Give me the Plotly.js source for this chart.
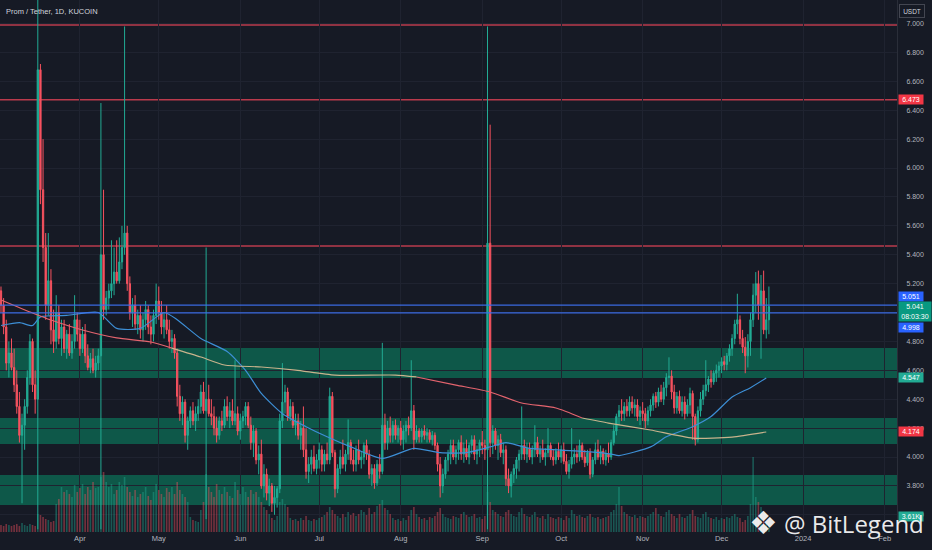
<!DOCTYPE html>
<html><head><meta charset="utf-8">
<script src="https://cdn.plot.ly/plotly-3.0.1.min.js"></script>
<style>html,body{margin:0;padding:0;background:#161a25;overflow:hidden}#chart{width:932px;height:550px}</style>
</head><body><div id="chart"></div>
<script>
// Daily candles starting 2023-03-02 (KUCOIN PROM/USDT)
const startDate = [2023, 2, 2];
const open = [
5.15,5.05,4.90,4.65,4.72,4.62,4.50,4.35,4.15,4.22,
4.35,4.55,4.80,4.50,4.40,6.68,5.85,5.45,5.05,5.22,
4.88,4.80,5.00,4.82,4.90,4.75,4.85,4.72,4.80,4.95,
4.85,4.75,4.85,4.70,4.62,4.68,4.60,4.65,4.70,5.40,
5.02,5.10,5.15,5.20,5.28,5.22,5.35,5.45,5.55,5.20,
5.00,5.05,4.92,4.98,4.88,4.95,5.02,4.90,4.85,4.98,
5.08,5.00,4.90,4.95,4.88,4.80,4.82,4.72,4.42,4.30,
4.38,4.15,4.25,4.32,4.25,4.30,4.35,4.45,4.32,4.40,
4.30,4.28,4.20,4.15,4.25,4.22,4.35,4.28,4.32,4.25,
4.30,4.18,4.25,4.28,4.35,4.22,4.10,4.18,3.98,4.02,
3.80,3.88,3.75,3.80,3.68,3.72,3.78,4.25,4.38,4.45,
4.28,4.35,4.22,4.25,4.15,4.20,4.05,3.90,3.95,4.00,
3.92,3.98,4.05,3.95,4.02,3.98,4.42,4.03,3.78,3.92,
4.00,3.95,4.02,4.10,3.98,3.95,4.05,3.98,4.00,4.08,
4.02,3.88,3.92,3.82,3.95,3.90,4.22,4.10,4.20,4.15,
4.22,4.15,4.20,4.12,4.18,4.22,4.20,4.32,4.12,4.18,
4.14,4.18,4.15,4.17,4.12,4.15,4.08,3.95,3.80,3.88,
3.98,4.02,4.08,4.00,4.05,4.10,4.02,4.06,4.00,4.08,
4.12,4.02,4.05,4.10,4.08,4.05,5.48,4.10,4.18,4.08,
4.12,4.03,4.05,3.85,3.80,3.88,3.92,3.98,4.02,4.08,
4.02,4.06,4.00,4.05,4.10,4.02,4.05,4.00,4.03,4.08,
4.00,3.98,4.04,4.00,4.05,3.97,3.90,3.95,4.00,4.02,
4.00,4.08,4.00,3.96,4.03,3.88,3.98,4.05,4.00,4.04,
3.98,4.02,4.00,4.10,4.18,4.28,4.32,4.30,4.35,4.32,
4.38,4.34,4.36,4.28,4.32,4.30,4.25,4.32,4.36,4.42,
4.38,4.45,4.40,4.48,4.55,4.56,4.45,4.34,4.42,4.32,
4.38,4.30,4.36,4.44,4.28,4.12,4.32,4.40,4.46,4.50,
4.54,4.52,4.58,4.60,4.63,4.66,4.64,4.70,4.75,4.82,
4.92,4.95,4.82,4.76,4.70,4.80,4.95,5.12,5.20,5.05,
5.15,4.88,4.95];
const high = [
5.18,5.10,4.95,4.80,4.82,4.75,4.60,4.45,4.30,4.40,
4.60,4.85,4.82,4.60,7.30,6.72,6.20,5.55,5.55,5.30,
5.02,5.12,5.05,4.95,4.95,4.88,4.92,4.85,5.12,5.00,
4.95,4.90,4.92,4.78,4.72,4.75,4.70,4.75,6.45,5.85,
5.15,5.20,5.50,5.45,5.50,5.52,5.60,6.98,5.60,5.25,
5.10,5.12,5.02,5.05,5.00,5.08,5.05,4.98,5.02,5.20,
5.18,5.08,5.00,5.05,4.95,4.88,4.85,4.75,4.50,4.42,
4.40,4.28,4.35,4.38,4.35,4.40,4.50,4.52,5.45,4.50,
4.40,4.35,4.28,4.28,4.32,4.40,4.42,4.38,4.40,4.67,
4.35,4.30,4.32,4.38,4.38,4.28,4.22,4.20,4.08,4.12,
3.95,3.92,3.85,3.82,3.80,3.80,4.30,4.65,4.50,4.48,
4.40,4.38,4.30,4.30,4.25,4.35,4.20,4.00,4.05,4.08,
4.02,4.10,4.08,4.05,4.10,4.48,4.45,4.05,3.95,4.05,
4.12,4.05,4.26,4.12,4.05,4.08,4.12,4.04,4.10,4.12,
4.05,3.95,3.95,3.98,4.02,4.79,4.30,4.25,4.28,4.25,
4.26,4.22,4.25,4.22,4.25,4.28,4.67,4.36,4.22,4.20,
4.20,4.22,4.20,4.19,4.18,4.17,4.10,4.00,3.92,4.00,
4.05,4.12,4.12,4.08,4.12,4.15,4.10,4.12,4.10,4.15,
4.15,4.08,4.12,4.18,4.12,6.98,6.30,4.22,4.20,4.15,
4.16,4.10,4.08,3.92,3.90,3.95,4.00,4.05,4.35,4.12,
4.10,4.10,4.08,4.22,4.14,4.08,4.12,4.06,4.20,4.10,
4.05,4.06,4.10,4.08,4.10,4.02,3.98,4.20,4.06,4.08,
4.12,4.10,4.05,4.05,4.06,4.00,4.10,4.12,4.08,4.06,
4.05,4.10,4.12,4.22,4.30,4.36,4.40,4.38,4.40,4.42,
4.42,4.40,4.40,4.35,4.38,4.34,4.35,4.40,4.44,4.45,
4.48,4.50,4.52,4.58,4.69,4.60,4.50,4.45,4.46,4.42,
4.42,4.40,4.48,4.46,4.30,4.35,4.45,4.50,4.67,4.56,
4.60,4.60,4.64,4.66,4.69,4.70,4.72,4.78,4.85,4.95,
5.13,4.98,4.88,4.83,4.85,5.00,5.20,5.28,5.29,5.26,
5.29,5.10,5.18];
const low = [
5.00,4.85,4.60,4.55,4.60,4.45,4.30,4.10,3.68,4.05,
4.30,4.50,4.45,4.30,3.50,5.75,5.35,4.95,4.98,4.78,
4.72,4.75,4.78,4.70,4.72,4.68,4.70,4.68,4.75,4.80,
4.70,4.72,4.65,4.60,4.58,4.58,4.55,4.60,3.50,4.95,
4.98,5.02,5.10,5.12,5.20,5.20,5.30,5.40,5.15,4.95,
4.90,4.88,4.85,4.82,4.80,4.88,4.85,4.78,4.80,4.92,
4.95,4.85,4.82,4.85,4.75,4.72,4.68,4.35,4.25,4.22,
4.10,4.05,4.20,4.22,4.18,4.25,4.30,4.30,3.57,4.28,
4.22,4.15,4.10,4.12,4.18,4.20,4.25,4.20,4.22,4.22,
4.15,4.12,4.20,4.22,4.20,4.05,4.00,3.95,3.88,3.78,
3.72,3.70,3.66,3.62,3.60,3.65,3.75,4.20,4.30,4.25,
4.25,4.20,4.15,4.12,4.05,4.00,3.85,3.82,3.88,3.90,
3.88,3.92,3.90,3.90,3.95,3.95,4.00,3.72,3.75,3.88,
3.92,3.90,3.98,3.95,3.90,3.90,3.95,3.92,3.95,3.98,
3.85,3.80,3.78,3.80,3.85,3.88,4.05,4.05,4.10,4.10,
4.12,4.10,4.08,4.05,4.10,4.15,4.18,4.05,4.10,4.10,
4.10,4.12,4.10,4.10,4.08,4.05,3.90,3.72,3.75,3.85,
3.90,3.95,3.98,3.95,3.98,3.98,3.96,3.98,3.95,4.02,
3.98,3.95,4.00,4.02,3.98,3.50,4.00,4.02,4.05,3.98,
4.00,3.95,3.80,3.75,3.72,3.82,3.85,3.90,3.98,3.98,
3.96,3.98,3.95,4.00,4.00,3.96,3.98,3.94,4.00,3.98,
3.94,3.95,3.98,3.96,3.95,3.88,3.85,3.92,3.95,3.96,
3.97,3.98,3.93,3.94,3.85,3.86,3.95,3.98,3.95,3.95,
3.94,3.96,3.98,4.08,4.15,4.22,4.25,4.25,4.28,4.28,
4.30,4.28,4.25,4.22,4.25,4.20,4.22,4.28,4.32,4.34,
4.35,4.38,4.36,4.42,4.50,4.40,4.30,4.30,4.30,4.28,
4.26,4.28,4.30,4.12,4.08,4.10,4.28,4.36,4.42,4.45,
4.48,4.50,4.52,4.55,4.58,4.60,4.60,4.66,4.70,4.78,
4.85,4.78,4.72,4.58,4.62,4.70,4.90,5.00,4.95,4.68,
4.85,4.82,4.85];
const close = [
5.05,4.90,4.65,4.72,4.62,4.50,4.35,4.15,4.22,4.35,
4.55,4.80,4.50,4.40,6.68,5.85,5.45,5.05,5.22,4.88,
4.80,5.00,4.82,4.90,4.75,4.85,4.72,4.80,4.95,4.85,
4.75,4.85,4.70,4.62,4.68,4.60,4.65,4.70,5.40,5.02,
5.10,5.15,5.20,5.28,5.22,5.35,5.45,5.55,5.20,5.00,
5.05,4.92,4.98,4.88,4.95,5.02,4.90,4.85,4.98,5.08,
5.00,4.90,4.95,4.88,4.80,4.82,4.72,4.42,4.30,4.38,
4.15,4.25,4.32,4.25,4.30,4.35,4.45,4.32,4.40,4.30,
4.28,4.20,4.15,4.25,4.22,4.35,4.28,4.32,4.25,4.30,
4.18,4.25,4.28,4.35,4.22,4.10,4.18,3.98,4.02,3.80,
3.88,3.75,3.80,3.68,3.72,3.78,4.25,4.38,4.45,4.28,
4.35,4.22,4.25,4.15,4.20,4.05,3.90,3.95,4.00,3.92,
3.98,4.05,3.95,4.02,3.98,4.42,4.03,3.78,3.92,4.00,
3.95,4.02,4.10,3.98,3.95,4.05,3.98,4.00,4.08,4.02,
3.88,3.92,3.82,3.95,3.90,4.22,4.10,4.20,4.15,4.22,
4.15,4.20,4.12,4.18,4.22,4.20,4.32,4.12,4.18,4.14,
4.18,4.15,4.17,4.12,4.15,4.08,3.95,3.80,3.88,3.98,
4.02,4.08,4.00,4.05,4.10,4.02,4.06,4.00,4.08,4.12,
4.02,4.05,4.10,4.08,4.05,5.48,4.10,4.18,4.08,4.12,
4.03,4.05,3.85,3.80,3.88,3.92,3.98,4.02,4.08,4.02,
4.06,4.00,4.05,4.10,4.02,4.05,4.00,4.03,4.08,4.00,
3.98,4.04,4.00,4.05,3.97,3.90,3.95,4.00,4.02,4.00,
4.08,4.00,3.96,4.03,3.88,3.98,4.05,4.00,4.04,3.98,
4.02,4.00,4.10,4.18,4.28,4.32,4.30,4.35,4.32,4.38,
4.34,4.36,4.28,4.32,4.30,4.25,4.32,4.36,4.42,4.38,
4.45,4.40,4.48,4.55,4.56,4.45,4.34,4.42,4.32,4.38,
4.30,4.36,4.44,4.28,4.12,4.32,4.40,4.46,4.50,4.54,
4.52,4.58,4.60,4.63,4.66,4.64,4.70,4.75,4.82,4.92,
4.95,4.82,4.76,4.70,4.80,4.95,5.12,5.20,5.05,5.15,
4.88,4.95,5.041];
// volume in thousands of PROM
const volume = [
7,6,8,7,6,7,8,6,9,7,
6,8,7,6,18,17,15,13,12,10,
11,28,33,45,40,42,38,35,47,40,
44,48,38,45,42,50,44,45,55,60,
50,45,48,38,42,50,47,55,45,40,
36,42,35,38,40,45,36,32,40,48,
42,38,35,44,40,45,38,50,42,38,
35,30,15,12,11,10,22,30,58,45,
40,35,48,42,38,45,40,36,34,50,
42,38,45,40,35,42,38,40,35,30,
25,22,18,14,12,16,30,33,28,25,
14,12,13,11,14,12,16,12,11,13,
12,14,15,17,20,25,22,18,16,14,
18,15,20,17,19,16,18,22,20,17,
24,18,20,26,28,32,24,22,18,14,
12,13,11,14,12,16,22,25,18,15,
13,14,12,15,14,16,20,24,18,15,
14,13,16,15,14,18,20,17,15,16,
18,14,15,13,16,40,30,22,20,18,
16,15,20,22,18,16,15,20,24,18,
16,15,17,20,15,14,16,13,18,15,
14,13,15,14,12,16,14,22,18,16,
17,15,14,16,18,15,14,15,13,14,
15,16,20,22,28,45,26,20,18,16,
15,17,14,16,15,14,16,18,20,24,
18,16,15,20,22,18,16,14,18,15,
14,16,18,22,16,15,14,18,20,15,
14,13,15,12,14,13,15,14,16,18,
15,14,10,12,16,28,75,35,30,25,
14,10,8];

// moving averages
const fastMaDates = ['2023-03-02','2023-03-09','2023-03-14','2023-03-17','2023-03-27','2023-04-08','2023-04-15','2023-04-24','2023-05-03','2023-05-08','2023-05-17','2023-05-27','2023-06-03','2023-06-09','2023-06-17','2023-06-26','2023-07-04','2023-07-13','2023-07-25','2023-08-06','2023-08-16','2023-08-26','2023-09-04','2023-09-10','2023-09-19','2023-09-29','2023-10-12','2023-10-20','2023-10-23','2023-11-04','2023-11-10','2023-11-20','2023-11-27','2023-12-05','2023-12-12','2023-12-18'];
const fastMaValues = [4.91,4.93,4.91,4.97,4.98,5.00,4.89,4.89,5.00,4.95,4.82,4.73,4.60,4.44,4.30,4.21,4.14,4.07,3.99,4.06,4.03,4.03,4.07,4.10,4.06,4.05,4.035,4.02,4.01,4.07,4.14,4.21,4.28,4.415,4.48,4.547];
const slowMaDates = ['2023-03-02','2023-03-14','2023-03-21','2023-04-02','2023-04-15','2023-04-28','2023-05-06','2023-05-17','2023-05-26','2023-06-09','2023-06-22','2023-07-07','2023-07-30','2023-08-07','2023-08-22','2023-09-04','2023-09-16','2023-09-29','2023-10-09','2023-10-19','2023-11-04','2023-11-20','2023-12-05','2023-12-18'];
const slowMaValues = [5.087,4.997,4.948,4.879,4.824,4.796,4.754,4.692,4.637,4.623,4.602,4.567,4.567,4.554,4.498,4.450,4.374,4.339,4.270,4.235,4.187,4.131,4.138,4.173];

const redLevels = [6.99, 6.473, 5.46];
const blueLevels = [5.051, 4.998];
const zoneLow = [4.547, 4.09, 3.668];
const zoneHigh = [4.754, 4.27, 3.875];
const monthTicks = ['2023-04-01','2023-05-01','2023-06-01','2023-07-01','2023-08-01','2023-09-01','2023-10-01','2023-11-01','2023-12-01','2024-01-01','2024-02-01'];
const monthLabels = ['Apr','May','Jun','Jul','Aug','Sep','Oct','Nov','Dec','2024','Feb'];

const UP = '#22ab94', DOWN = '#f7525f';
function dayStr(i){const d=new Date(Date.UTC(startDate[0],startDate[1],startDate[2]));d.setUTCDate(d.getUTCDate()+i);return d.toISOString().slice(0,10);}
const dates = close.map((_,i)=>dayStr(i));
const volColors = close.map((c,i)=> c>=open[i] ? 'rgba(34,171,148,0.42)' : 'rgba(247,82,95,0.42)');

const traces = [];
traces.push({type:'bar', x:dates, y:volume, yaxis:'y2', marker:{color:volColors, line:{width:0}}, width:86400000*0.62, hoverinfo:'skip'});
traces.push({type:'scatter', mode:'lines', x:fastMaDates, y:fastMaValues, line:{color:'#3d8fd6', width:1.2, shape:'spline', smoothing:0.6}, hoverinfo:'skip'});
const slowSplits = [0, 6, 13, 18, slowMaDates.length-1];
const slowColors = ['#e4646e', '#c8b38c', '#e4646e', '#c8b38c'];
for (let s=0; s<slowSplits.length-1; s++){
  const a = slowSplits[s], b = slowSplits[s+1]+1;
  traces.push({type:'scatter', mode:'lines', x:slowMaDates.slice(a,b), y:slowMaValues.slice(a,b), line:{color:slowColors[s], width:1.2, shape:'spline', smoothing:0.6}, hoverinfo:'skip'});
}
traces.push({type:'candlestick', x:dates, open:open, high:high, low:low, close:close,
  increasing:{line:{color:UP, width:1}, fillcolor:UP},
  decreasing:{line:{color:DOWN, width:1}, fillcolor:DOWN},
  whiskerwidth:0, hoverinfo:'skip'});

const shapes = [];
for (let i=0;i<zoneLow.length;i++){
  shapes.push({type:'rect', xref:'paper', x0:0, x1:1, yref:'y', y0:zoneLow[i], y1:zoneHigh[i], fillcolor:'rgba(10,130,98,0.6)', line:{width:0}, layer:'below'});
}
redLevels.forEach(v=>shapes.push({type:'line', xref:'paper', x0:0, x1:1, yref:'y', y0:v, y1:v, line:{color:'rgba(242,70,90,0.75)', width:1.4}, layer:'below'}));
blueLevels.forEach(v=>shapes.push({type:'line', xref:'paper', x0:0, x1:1, yref:'y', y0:v, y1:v, line:{color:'rgba(60,110,235,0.95)', width:1.2}, layer:'above'}));

const tagFont = {family:'Liberation Sans, Arial, sans-serif', size:7, color:'#ffffff'};
function tag(y, text, bg, yshift, w, h){
  return {xref:'paper', x:1, xanchor:'left', xshift:1, yref:'y', y:y, yanchor:'middle', yshift:yshift||0,
    text:text, showarrow:false, bgcolor:bg, font:tagFont, width:w||24, height:h||9, borderpad:0, align:'center'};
}
const annotations = [
  {xref:'paper', x:0, xanchor:'left', xshift:4, yref:'paper', y:1, yanchor:'middle', yshift:-11,
   text:'Prom / Tether, 1D, KUCOIN', showarrow:false, font:{family:'Liberation Sans, Arial, sans-serif', size:7.5, color:'#d1d4dc'}},
  {xref:'paper', x:1, xanchor:'left', xshift:2, yref:'paper', y:1, yanchor:'top', yshift:-4,
   text:'USDT', showarrow:false, bgcolor:'#161a25', bordercolor:'#434651', borderwidth:1, borderpad:1,
   width:22, height:10, font:{family:'Liberation Sans, Arial, sans-serif', size:6.5, color:'#d1d4dc'}},
  tag(6.473, '6.473', '#f23645'),
  tag(5.051, '5.051', '#2962ff', 9),
  tag(5.041, '5.041<br>08:03:30', '#089981', -5, 32, 19),
  tag(4.998, '4.998', '#2962ff', -15),
  tag(4.547, '4.547', '#22ab94'),
  tag(4.174, '4.174', '#f23645'),
  tag(3.585, '3.61K', '#22ab94'),
  {xref:'paper', x:763/897, xanchor:'center', yref:'paper', y:1-523/532, yanchor:'middle',
   text:'\u2756', showarrow:false, font:{family:'DejaVu Sans, sans-serif', size:32, color:'rgba(255,255,255,0.92)'}},
  {xref:'paper', x:782/897, xanchor:'left', yref:'paper', y:1-523/532, yanchor:'middle',
   text:'@ BitLegend', showarrow:false, font:{family:'Open Sans, sans-serif', size:24, color:'rgba(255,255,255,0.92)'}}
];

const layout = {
  width:932, height:550,
  margin:{l:0, r:35, t:0, b:18, pad:0},
  paper_bgcolor:'#161a25', plot_bgcolor:'#161a25',
  showlegend:false, hovermode:false, dragmode:false,
  font:{family:'Liberation Sans, Arial, sans-serif', color:'#b2b5be'},
  bargap:0.35,
  xaxis:{type:'date', range:['2023-03-01 15:00','2024-02-05 17:00'], rangeslider:{visible:false},
    tickmode:'array', tickvals:monthTicks, ticktext:monthLabels, ticks:'', showgrid:true,
    gridcolor:'#1f2330', gridwidth:1, zeroline:false, showline:false,
    tickfont:{size:7.5, color:'#b2b5be'}, fixedrange:true},
  yaxis:{range:[3.481, 7.163], side:'right', tickmode:'linear', tick0:3.6, dtick:0.2, tickformat:'.3f',
    ticks:'', ticklabelstandoff:7, showgrid:true, gridcolor:'#1f2330', zeroline:false,
    showline:true, linecolor:'#2a2e39', linewidth:1,
    tickfont:{size:7, color:'#b2b5be'}, fixedrange:true},
  yaxis2:{overlaying:'y', range:[0, 532], visible:false, fixedrange:true},
  shapes:shapes, annotations:annotations
};
Plotly.newPlot('chart', traces, layout, {staticPlot:true, displayModeBar:false});
</script></body></html>
